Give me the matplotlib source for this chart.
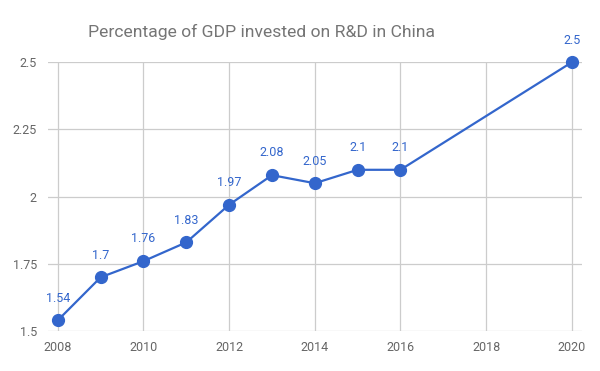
import matplotlib
matplotlib.use("Agg")
import matplotlib.pyplot as plt

years = [2008, 2009, 2010, 2011, 2012, 2013, 2014, 2015, 2016, 2020]
values = [1.54, 1.7, 1.76, 1.83, 1.97, 2.08, 2.05, 2.1, 2.1, 2.5]
value_labels = ["1.54", "1.7", "1.76", "1.83", "1.97", "2.08", "2.05", "2.1", "2.1", "2.5"]
xticks = [2008, 2010, 2012, 2014, 2016, 2018, 2020]
yticks = [1.5, 1.75, 2.0, 2.25, 2.5]
ytick_labels = ["1.5", "1.75", "2", "2.25", "2.5"]
title = "Percentage of GDP invested on R&D in China"

plt.rcParams['font.family'] = ['Roboto', 'DejaVu Sans']

fig = plt.figure(figsize=(6, 3.71), dpi=100)
ax = fig.add_axes([0.08, 0.1078, 0.89, 0.7242])

blue = "#3366cc"
ax.plot(years, values, color=blue, lw=1.6, marker='o', markersize=8.5, zorder=3, clip_on=False)
for x, y, t in zip(years, values, value_labels):
    ax.annotate(t, (x, y), xytext=(0, 16), textcoords='offset points',
                ha='center', va='center', color=blue, fontsize=9)

ax.set_xlim(2007.77, 2020.24)
ax.set_ylim(1.5, 2.5)
ax.set_xticks(xticks)
ax.set_xticklabels([str(v) for v in xticks])
ax.set_yticks(yticks)
ax.set_yticklabels(ytick_labels)
ax.grid(True, color="#cccccc", lw=0.9)
ax.set_axisbelow(True)
for s in ax.spines.values():
    s.set_visible(False)
ax.tick_params(length=0, colors="#666666", labelsize=9)
ax.tick_params(axis='y', pad=8)
ax.tick_params(axis='x', pad=7)

fig.text(261/600, 1 - 32/371, title, ha='center', va='center', fontsize=12.6, color="#757575")

fig.savefig("out.png", dpi=100)
